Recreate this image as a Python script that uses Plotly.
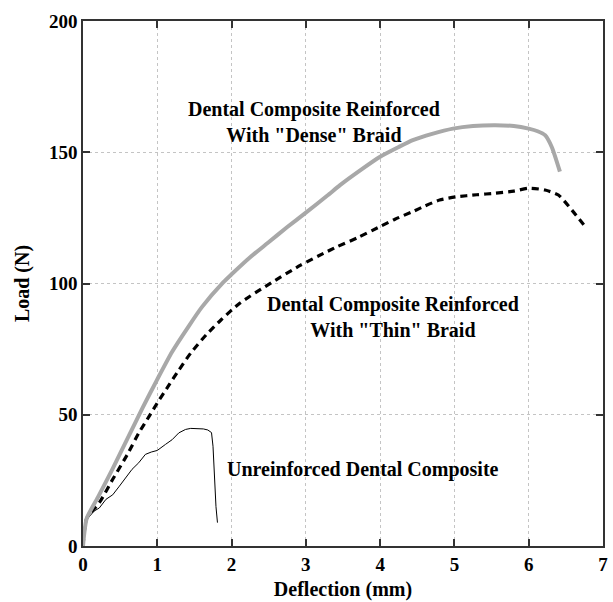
import plotly.graph_objects as go

dense_x = [0, 0.05, 0.2, 0.4, 0.6, 0.8, 1.0, 1.2, 1.42, 1.6, 1.89, 2.0, 2.25, 2.49, 2.75, 3.0, 3.29, 3.46, 3.75, 4.0, 4.25, 4.44, 4.7, 4.98, 5.25, 5.55, 5.8, 6.0, 6.12, 6.22, 6.31, 6.42]
dense_y = [0, 10.5, 18.5, 29.5, 41, 52.5, 63.5, 74, 83.6, 91, 100.5, 103.5, 110, 115.5, 121.5, 127, 133.5, 137.5, 143.5, 148.3, 152, 154.6, 157, 159, 160, 160.3, 160, 159, 158, 156.5, 152, 142.6]

thin_x = [0, 0.05, 0.22, 0.4, 0.6, 0.75, 0.89, 1.0, 1.15, 1.29, 1.45, 1.66, 1.86, 2.11, 2.49, 2.93, 3.24, 3.42, 3.7, 4.0, 4.2, 4.44, 4.6, 4.8, 5.02, 5.3, 5.55, 5.8, 6.0, 6.22, 6.4, 6.58, 6.78]
thin_y = [0, 10.5, 16.5, 25.4, 35, 43, 49.4, 54.5, 61, 67, 73.5, 80.5, 86.2, 92.5, 99.5, 107, 111.5, 114, 117.5, 121.7, 124.5, 127.4, 129.5, 131.8, 133, 133.8, 134.4, 135.2, 136.3, 135.6, 133.7, 128, 121]

unre_x = [0, 0.05, 0.15, 0.22, 0.31, 0.4, 0.49, 0.58, 0.66, 0.75, 0.84, 0.92, 1.0, 1.11, 1.2, 1.29, 1.38, 1.45, 1.55, 1.62, 1.68, 1.73, 1.75, 1.77, 1.79, 1.81]
unre_y = [0, 10.1, 13.3, 14.5, 17.8, 19.5, 22.8, 26, 29.2, 31.7, 34.9, 35.8, 36.4, 38.7, 40.5, 43.1, 44.4, 44.8, 44.8, 44.6, 44.2, 43.2, 38, 25, 15, 8.9]

labels = [
    ("Dental Composite Reinforced<br>With \"Dense\" Braid", 3.11, 161.7),
    ("Dental Composite Reinforced<br>With \"Thin\" Braid", 4.17, 87.1),
    ("Unreinforced Dental Composite", 3.77, 29.2),
]

FONT = "Liberation Serif"

fig = go.Figure()
fig.add_trace(go.Scatter(x=unre_x, y=unre_y, mode="lines",
                         line=dict(color="black", width=1), showlegend=False))
fig.add_trace(go.Scatter(x=thin_x, y=thin_y, mode="lines",
                         line=dict(color="black", width=3.2, dash="7px,5px", shape="spline", smoothing=0.6),
                         showlegend=False))
fig.add_trace(go.Scatter(x=dense_x, y=dense_y, mode="lines",
                         line=dict(color="#a8a8a8", width=4, shape="spline", smoothing=0.6),
                         showlegend=False))

for text, x, y in labels:
    fig.add_annotation(x=x, y=y, text="<b>" + text + "</b>", showarrow=False,
                       font=dict(family=FONT, size=20, color="black"), align="center")

axis_common = dict(showline=True, linecolor="#333", linewidth=1.5, mirror="ticks",
                   ticks="inside", ticklen=7, tickwidth=1.5, tickcolor="#333",
                   showgrid=True, gridcolor="#c4c4c4", griddash="dot", gridwidth=1,
                   zeroline=False,
                   tickfont=dict(family=FONT, size=19, color="black", weight="bold"))

fig.update_xaxes(range=[0, 7], dtick=1, **axis_common,
                 title=dict(text="<b>Deflection (mm)</b>", standoff=8,
                            font=dict(family=FONT, size=20, color="black")))
fig.update_yaxes(range=[0, 200], dtick=50, **axis_common,
                 title=dict(text="<b>Load (N)</b>", standoff=14,
                            font=dict(family=FONT, size=20, color="black")))

fig.update_layout(width=613, height=602, margin=dict(l=83, r=5, t=21, b=55),
                  plot_bgcolor="white", paper_bgcolor="white")

fig.write_html("out.html")
